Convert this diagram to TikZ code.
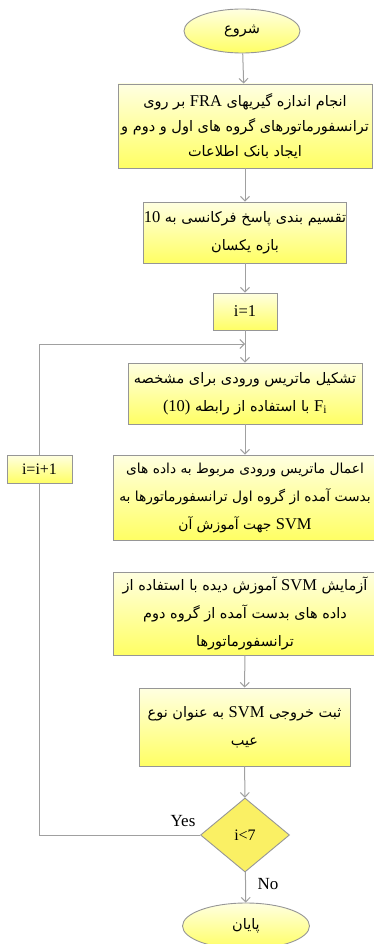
\documentclass[tikz,border=0pt]{standalone}
\usepackage{fontspec}
\setmainfont{Liberation Serif}
\newfontfamily\fa[Script=Arabic]{DejaVu Sans}
\TeXXeTstate=1
\usetikzlibrary{shapes.geometric,arrows.meta}
\newcommand\LT[1]{\beginL{\rmfamily\fontsize{16.5}{16.5}\selectfont #1}\endL}
\newcommand\RL[1]{\beginR #1\endR}
\definecolor{edgegray}{RGB}{150,150,150}
\definecolor{linegray}{RGB}{160,160,160}
\definecolor{boxtop}{RGB}{255,255,225}
\definecolor{boxbot}{RGB}{255,255,100}
\definecolor{diafill}{RGB}{250,240,100}
\tikzset{
  box/.style={draw=edgegray, line width=0.9pt, top color=boxtop, bottom color=boxbot,
    inner sep=0pt, align=center, font=\fa\fontsize{14.5}{28}\selectfont},
  term/.style={ellipse, draw=edgegray, line width=0.9pt, top color=boxtop, bottom color=boxbot,
    inner sep=0pt, font=\fa\fontsize{14.5}{28}\selectfont},
  dec/.style={diamond, draw=edgegray, line width=0.9pt, fill=diafill, inner sep=0pt,
    font=\fontsize{16}{18}\selectfont},
  conn/.style={draw=linegray, line width=1pt, -{Straight Barb[length=4.5pt,width=9pt]}},
  plain/.style={draw=linegray, line width=1pt},
  lbl/.style={font=\fontsize{17}{18}\selectfont, inner sep=0pt}
}
\begin{document}
\begin{tikzpicture}[x=1pt,y=-1pt]
\useasboundingbox (0,0) rectangle (373,944);
\node[term, minimum width=116pt, minimum height=44pt] (start) at (242,31) {\RL{شروع}};
\node[box, minimum width=254pt, minimum height=84pt, font=\fa\fontsize{14.5}{25}\selectfont] (b1) at (245,126)
  {\RL{انجام اندازه گیریهای \LT{FRA} بر روی}\\ \RL{ترانسفورماتورهای گروه های اول و دوم و}\\ \RL{ایجاد بانک اطلاعات}};
\node[box, minimum width=194pt, minimum height=61pt] (b2) at (245,232.5)
  {\RL{تقسیم بندی پاسخ فرکانسی به \LT{10}}\\ \RL{بازه یکسان}};
\node[box, minimum width=64pt, minimum height=37pt, font=\fontsize{16.5}{18}\selectfont] (i1) at (245,311.5) {i=1};
\node[box, minimum width=234pt, minimum height=61pt] (b3) at (245,393.5)
  {\RL{تشکیل ماتریس ورودی برای مشخصه}\\ \RL{\LT{F\textsubscript{i}} با استفاده از رابطه \LT{(10)}}};
\node[box, minimum width=264pt, minimum height=85pt, font=\fa\fontsize{13.8}{28}\selectfont] (b4) at (245,497.5)
  {\RL{اعمال ماتریس ورودی مربوط به داده های}\\ \RL{بدست آمده از گروه اول ترانسفورماتورها به}\\ \RL{\LT{SVM} جهت آموزش آن}};
\node[box, minimum width=264pt, minimum height=83pt] (b5) at (245,613.5)
  {\RL{آزمایش \LT{SVM} آموزش دیده با استفاده از}\\ \RL{داده های بدست آمده از گروه دوم}\\ \RL{ترانسفورماتورها}};
\node[box, minimum width=211pt, minimum height=78pt] (b6) at (244.5,727)
  {\RL{ثبت خروجی \LT{SVM} به عنوان نوع}\\ \RL{عیب}};
\node[dec, minimum width=89pt, minimum height=74pt] (dia) at (245,835) {i<7};
\node[term, minimum width=127pt, minimum height=46pt] (end) at (246,926) {\RL{پایان}};
\node[box, minimum width=65pt, minimum height=28pt, font=\fontsize{16}{18}\selectfont] (inc) at (39.5,469) {i=i+1};
\coordinate (merge) at (245,344);
\node[lbl] (yes) at (183,821) {Yes};
\node[lbl] (no) at (268,884) {No};
\draw[conn] (start) -- (b1);
\draw[conn] (b1) -- (b2);
\draw[conn] (b2) -- (i1);
\draw[conn] (i1) -- (b3);
\draw[conn] (b3) -- (b4);
\draw[conn] (b5) -- (b6);
\draw[conn] (b6) -- (dia);
\draw[conn] (dia) -- (end);
\draw[plain] (dia.west) -| (inc.south);
\draw[conn] (inc.north) |- (merge);
\end{tikzpicture}
\end{document}
